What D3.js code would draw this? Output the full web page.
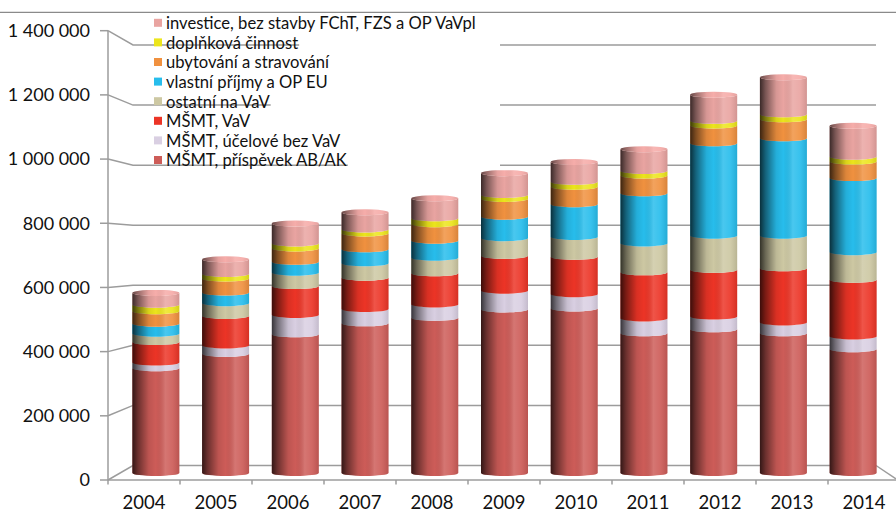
<!DOCTYPE html>
<html><head><meta charset="utf-8">
<script src="https://cdn.jsdelivr.net/npm/d3@7"></script>
<style>body{margin:0;background:#fff} text{font-family:Lato, "Open Sans", sans-serif;fill:#111}</style>
</head><body><svg id="c" width="896" height="513"></svg>
<script>
const years = ["2004","2005","2006","2007","2008","2009","2010","2011","2012","2013","2014"];
const prispevek = [337000,383000,446000,481000,499000,526000,529000,449000,462000,449000,398000];
const ucelove   = [18000,27000,62000,46000,43000,60000,46000,48000,41000,35000,41000];
const msmtVaV   = [66000,95000,93000,101000,100000,112000,120000,148000,150000,174000,182000];
const ostatniVaV= [27000,41000,43000,46000,50000,57000,64000,93000,110000,105000,89000];
const vlastni   = [32000,34000,35000,45000,55000,69000,105000,161000,297000,313000,238000];
const ubytovani = [40000,45000,43000,51000,53000,57000,56000,57000,57000,61000,53000];
const doplnkova = [21000,15000,16000,13000,19000,13000,16000,15000,15000,16000,16000];
const investice = [38000,47000,64000,55000,64000,70000,64000,70000,84000,119000,99000];
const seriesNames = ["MŠMT, příspěvek AB/AK","MŠMT, účelové bez VaV","MŠMT, VaV","ostatní na VaV","vlastní příjmy a OP EU","ubytování a stravování","doplňková činnost","investice, bez stavby FChT, FZS a OP VaVpl"];
const seriesValues = [prispevek, ucelove, msmtVaV, ostatniVaV, vlastni, ubytovani, doplnkova, investice];
const colors = ["#cd5c58","#d9cfe2","#ec3426","#cdc8a3","#27bdec","#f0913f","#ece51c","#e9a4a1"];
const yTicks = [0,200000,400000,600000,800000,1000000,1200000,1400000];

const svg = d3.select("#c");
const keys = seriesNames;
const table = years.map((y,i)=>{const o={year:y}; keys.forEach((k,j)=>o[k]=seriesValues[j][i]); return o;});
const stacked = d3.stack().keys(keys)(table);

const yFront = d3.scaleLinear().domain([0,1400000]).range([480,30.7]);
const yBack  = d3.scaleLinear().domain([0,1400000]).range([465.5,45]);
const yBar   = d3.scaleLinear().domain([0,1400000]).range([473,37.5]);
const xBar = d3.scaleBand().domain(years).range([121,888]).paddingInner(0.326).paddingOuter(0.163);
const xAxis = d3.scaleBand().domain(years).range([108,900]);
const color = d3.scaleOrdinal().domain(keys).range(colors);
const fmt = v => d3.format(",")(v).replace(/,/g," ");
const gridCol = "#9c9c9c";

// top frame line
svg.append("line").attr("x1",0).attr("x2",896).attr("y1",12.3).attr("y2",12.3).attr("stroke","#8a8a8a").attr("stroke-width",1.3);

// back gridlines with connectors
const g = svg.append("g");
yTicks.forEach(t=>{
  g.append("path").attr("d",`M108,${yFront(t)}L133,${yBack(t)}L876,${yBack(t)}`)
    .attr("fill","none").attr("stroke",gridCol).attr("stroke-width",1.5);
});
// floor right edge
svg.append("line").attr("x1",876).attr("y1",yBack(0)).attr("x2",896).attr("y2",479).attr("stroke",gridCol).attr("stroke-width",1.5);

// legend
const leg = svg.append("g");
const legKeys = keys.slice().reverse();
const rowY = i => 23.3 + i*19.6;
const bgG = leg.append("g");
legKeys.forEach((k,i)=>{
  leg.append("rect").attr("x",154).attr("y",rowY(i)-4.5).attr("width",8).attr("height",8).attr("fill",color(k));
  const t = leg.append("text").attr("x",166).attr("y",rowY(i)).attr("dy","0.35em").attr("font-size",16.6).text(k);
  const w = t.node().getComputedTextLength();
  bgG.append("rect").attr("x",166+w+1).attr("y",rowY(i)-9.8).attr("width",Math.max(0,500-(166+w+1))).attr("height",19.6).attr("fill","#fff");
});

// cylinder shading gradient
const defs = svg.append("defs");
const sh = defs.append("linearGradient").attr("id","shade").attr("x1","0").attr("x2","1").attr("y1","0").attr("y2","0");
[[0,"#000",0.75],[0.12,"#000",0.48],[0.35,"#000",0.08],[0.5,"#000",0],[0.7,"#fff",0.16],[0.85,"#fff",0.08],[1,"#000",0.1]]
  .forEach(([o,c,a])=>sh.append("stop").attr("offset",o).attr("stop-color",c).attr("stop-opacity",a));

const rx = xBar.bandwidth()/2, ry = 3;
function segPath(x0,x1,yt,yb){
  return `M${x0},${yt}A${rx},${ry} 0 0 0 ${x1},${yt}L${x1},${yb}A${rx},${ry} 0 0 1 ${x0},${yb}Z`;
}
const bars = svg.append("g");
years.forEach((yr,i)=>{
  const x0 = xBar(yr), x1 = x0 + xBar.bandwidth();
  const bg = bars.append("g");
  stacked.forEach(s=>{
    const d = s[i];
    bg.append("path").attr("d",segPath(x0,x1,yBar(d[1]),yBar(d[0]))).attr("fill",color(s.key));
  });
  const top = yBar(stacked[stacked.length-1][i][1]);
  bg.append("path").attr("d",segPath(x0,x1,top,yBar(0))).attr("fill","url(#shade)");
  // top cap
  bg.append("ellipse").attr("cx",(x0+x1)/2).attr("cy",top).attr("rx",rx).attr("ry",ry)
    .attr("fill",d3.color(colors[colors.length-1]).brighter(0.15));
  bg.append("ellipse").attr("cx",(x0+x1)/2).attr("cy",top).attr("rx",rx).attr("ry",ry).attr("fill","url(#shade)").attr("opacity",0.8);
});

// front axes
svg.append("line").attr("x1",108).attr("x2",108).attr("y1",30.7).attr("y2",480).attr("stroke",gridCol).attr("stroke-width",1.5);
svg.append("line").attr("x1",108).attr("x2",896).attr("y1",480).attr("y2",480).attr("stroke",gridCol).attr("stroke-width",1.5);
yTicks.forEach(t=>{
  svg.append("line").attr("x1",100).attr("x2",108).attr("y1",yFront(t)).attr("y2",yFront(t)).attr("stroke",gridCol).attr("stroke-width",1.5);
  svg.append("text").attr("x",90).attr("y",yFront(t)).attr("dy","0.35em").attr("text-anchor","end").attr("font-size",18).text(fmt(t));
});
years.forEach(yr=>{
  const x = xAxis(yr);
  svg.append("line").attr("x1",x).attr("x2",x).attr("y1",480).attr("y2",484.5).attr("stroke",gridCol).attr("stroke-width",1.5);
  svg.append("text").attr("x",x+xAxis.bandwidth()/2).attr("y",509).attr("text-anchor","middle").attr("font-size",18.5).text(yr);
});
</script></body></html>
